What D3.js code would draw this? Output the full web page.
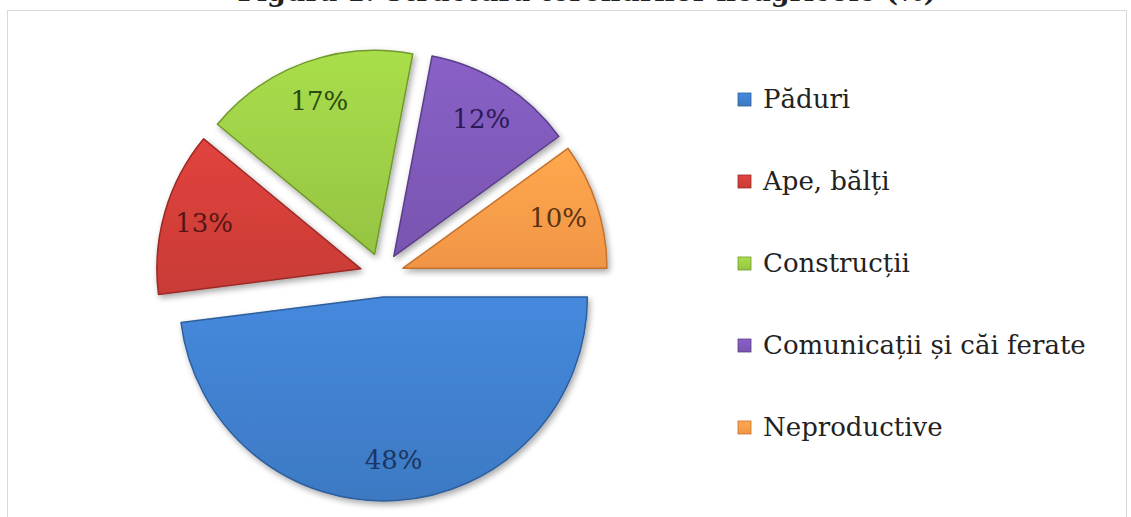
<!DOCTYPE html>
<html>
<head>
<meta charset="utf-8">
<script src="https://cdn.jsdelivr.net/npm/d3@7"></script>
<style>
html,body{margin:0;padding:0;background:#fff;overflow:hidden;}
svg{display:block;}
</style>
</head>
<body>
<svg id="chart" width="1131" height="517"></svg>
<script>
const titleText = "Figura 1. Structura terenurilor neagricole (%)";
const categories = ["Păduri", "Ape, bălți", "Construcții", "Comunicații și căi ferate", "Neproductive"];
const values = [48, 13, 17, 12, 10];
const labels = ["48%", "13%", "17%", "12%", "10%"];
const fills = ["#3f7dca", "#cf3d38", "#9bcb45", "#7d58b6", "#f99a48"];
const strokes = ["#2d5e9c", "#9b2a26", "#6f9a2c", "#5a3e88", "#c4712e"];
const labelColors = ["#1c3561", "#561515", "#2b4a12", "#2c1a55", "#5a3213"];

const W = 1131, H = 517;
const svg = d3.select("#chart");

// border
svg.append("rect").attr("x", 7.5).attr("y", 10.5).attr("width", 1119).attr("height", 520)
  .attr("fill", "#fff").attr("stroke", "#d9d9d9").attr("stroke-width", 1);

// title (clipped at top like the reference)
svg.append("text").attr("x", 587).attr("y", 1)
  .attr("text-anchor", "middle")
  .attr("font-family", "'DejaVu Serif', 'Liberation Serif', serif")
  .attr("font-weight", "bold").attr("font-size", 27).attr("fill", "#222")
  .text(titleText);

const defs = svg.append("defs");
const f = defs.append("filter").attr("id", "shadow").attr("x", "-20%").attr("y", "-20%").attr("width", "140%").attr("height", "140%");
f.append("feGaussianBlur").attr("in", "SourceAlpha").attr("stdDeviation", 3).attr("result", "b");
f.append("feOffset").attr("in", "b").attr("dx", 2).attr("dy", 3).attr("result", "o");
f.append("feComponentTransfer").attr("in", "o").attr("result", "o2")
  .append("feFuncA").attr("type", "linear").attr("slope", 0.35);
const m = f.append("feMerge");
m.append("feMergeNode").attr("in", "o2");
m.append("feMergeNode").attr("in", "SourceGraphic");

fills.forEach((c, i) => {
  const g = defs.append("linearGradient").attr("id", "grad" + i)
    .attr("x1", 0).attr("y1", 0).attr("x2", 0).attr("y2", 1);
  g.append("stop").attr("offset", "0%").attr("stop-color", d3.color(c).brighter(0.25));
  g.append("stop").attr("offset", "100%").attr("stop-color", d3.color(c).darker(0.1));
});

const cx = 382, cy = 275, R = 204, explode = 22;
const pie = d3.pie().sort(null).startAngle(Math.PI / 2).endAngle(Math.PI / 2 + 2 * Math.PI);
const arcs = pie(values);
const arc = d3.arc().innerRadius(0).outerRadius(R);
const labelArc = d3.arc().innerRadius(R * 0.8).outerRadius(R * 0.8);

const g = svg.append("g").attr("transform", `translate(${cx},${cy})`);
const slices = g.selectAll("g.slice").data(arcs).enter().append("g")
  .attr("class", "slice")
  .attr("transform", d => {
    const a = (d.startAngle + d.endAngle) / 2;
    return `translate(${explode * Math.sin(a)},${-explode * Math.cos(a)})`;
  });
slices.append("path").attr("d", arc)
  .attr("fill", (d, i) => `url(#grad${i})`)
  .attr("stroke", (d, i) => strokes[i]).attr("stroke-width", 1.5)
  .attr("stroke-linejoin", "round")
  .attr("filter", "url(#shadow)");
slices.append("text")
  .attr("transform", d => `translate(${labelArc.centroid(d)})`)
  .attr("text-anchor", "middle").attr("dy", "0.35em")
  .attr("font-family", "'DejaVu Serif', 'Liberation Serif', serif")
  .attr("font-size", 26)
  .attr("fill", (d, i) => labelColors[i])
  .text((d, i) => labels[i]);

// legend
const lg = svg.append("g").attr("transform", "translate(738,99)");
const items = lg.selectAll("g").data(categories).enter().append("g")
  .attr("transform", (d, i) => `translate(0,${i * 82})`);
items.append("rect").attr("x", 0).attr("y", -6).attr("width", 13).attr("height", 13)
  .attr("fill", (d, i) => `url(#grad${i})`).attr("stroke", (d, i) => strokes[i]).attr("stroke-width", 0.8);
items.append("text").attr("x", 25).attr("y", 0).attr("dy", "0.35em")
  .attr("font-family", "'DejaVu Serif', 'Liberation Serif', serif")
  .attr("font-size", 26).attr("fill", "#222")
  .text(d => d);
</script>
</body>
</html>
